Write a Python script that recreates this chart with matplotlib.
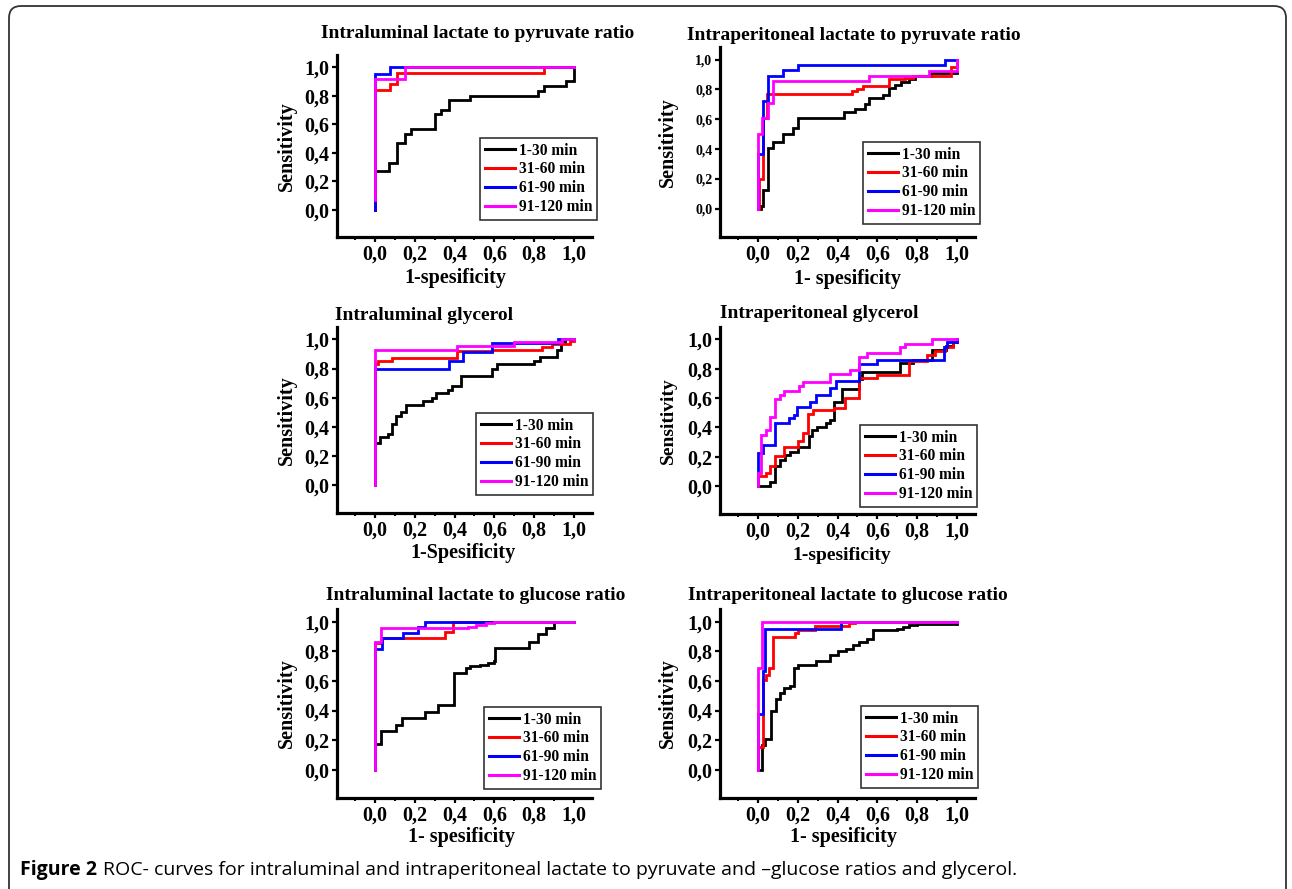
import numpy as np
import matplotlib
matplotlib.use("Agg")
import matplotlib.pyplot as plt
from matplotlib.patches import FancyBboxPatch
from matplotlib.ticker import MultipleLocator

# ── data (1-specificity, sensitivity) ────────────────────────────────────────
periods = ["1-30 min", "31-60 min", "61-90 min", "91-120 min"]
tick_vals = [0.0, 0.2, 0.4, 0.6, 0.8, 1.0]
tick_labels = ["0,0", "0,2", "0,4", "0,6", "0,8", "1,0"]

# intraluminal lactate/pyruvate
lp_lum_x1 = [0, 0, 0.07, 0.11, 0.15, 0.18, 0.30, 0.33, 0.37, 0.48, 0.82, 0.85, 0.96, 1.0]
lp_lum_y1 = [0, 0.27, 0.33, 0.47, 0.53, 0.57, 0.67, 0.70, 0.77, 0.80, 0.83, 0.87, 0.90, 1.0]
lp_lum_x2 = [0, 0, 0.075, 0.11, 0.85, 1.0]
lp_lum_y2 = [0, 0.84, 0.88, 0.96, 1.0, 1.0]
lp_lum_x3 = [0, 0, 0.075, 1.0]
lp_lum_y3 = [0, 0.955, 1.0, 1.0]
lp_lum_x4 = [0, 0, 0.15, 1.0]
lp_lum_y4 = [0.07, 0.92, 1.0, 1.0]

# intraperitoneal lactate/pyruvate
lp_per_x1 = [0, 0.017, 0.028, 0.05, 0.075, 0.125, 0.175, 0.20, 0.433, 0.49, 0.537, 0.558,
             0.63, 0.66, 0.69, 0.72, 0.76, 0.79, 0.87, 1.0]
lp_per_y1 = [0, 0.02, 0.125, 0.41, 0.45, 0.50, 0.54, 0.61, 0.65, 0.67, 0.70, 0.74,
             0.76, 0.81, 0.83, 0.85, 0.87, 0.89, 0.91, 0.92]
lp_per_x2 = [0, 0.005, 0.028, 0.045, 0.475, 0.50, 0.53, 0.66, 0.74, 0.78, 0.97, 1.0]
lp_per_y2 = [0, 0.2, 0.61, 0.77, 0.79, 0.80, 0.82, 0.87, 0.88, 0.89, 0.95, 1.0]
lp_per_x3 = [0, 0, 0.028, 0.053, 0.128, 0.20, 0.94, 1.0]
lp_per_y3 = [0, 0.37, 0.72, 0.89, 0.93, 0.965, 1.0, 1.0]
lp_per_x4 = [0, 0, 0.02, 0.053, 0.078, 0.56, 0.86, 1.0]
lp_per_y4 = [0, 0.50, 0.61, 0.71, 0.86, 0.89, 0.925, 1.0]

# intraluminal glycerol
gly_lum_x1 = [0, 0, 0.024, 0.066, 0.084, 0.104, 0.133, 0.155, 0.242, 0.286, 0.306, 0.365,
              0.385, 0.432, 0.587, 0.613, 0.80, 0.827, 0.914, 0.936, 0.953, 1.0]
gly_lum_y1 = [0, 0.29, 0.33, 0.35, 0.42, 0.475, 0.50, 0.55, 0.58, 0.60, 0.63, 0.65,
              0.68, 0.75, 0.80, 0.83, 0.85, 0.88, 0.93, 0.98, 1.0, 1.0]
gly_lum_x2 = [0, 0, 0.017, 0.084, 0.41, 0.59, 0.84, 0.89, 0.98, 1.0]
gly_lum_y2 = [0, 0.83, 0.85, 0.87, 0.92, 0.93, 0.95, 0.97, 0.99, 0.99]
gly_lum_x3 = [0, 0, 0.37, 0.44, 0.59, 0.92, 1.0]
gly_lum_y3 = [0, 0.80, 0.85, 0.915, 0.977, 1.0, 1.0]
gly_lum_x4 = [0, 0, 0.41, 0.70, 0.94, 1.0]
gly_lum_y4 = [0, 0.93, 0.955, 0.98, 1.0, 1.0]

# intraperitoneal glycerol
gly_per_x1 = [0, 0.062, 0.087, 0.11, 0.134, 0.162, 0.20, 0.255, 0.27, 0.296, 0.343, 0.363,
              0.38, 0.42, 0.51, 0.523, 0.715, 0.78, 0.875, 0.946, 0.98, 1.0]
gly_per_y1 = [0, 0.03, 0.135, 0.18, 0.215, 0.235, 0.27, 0.34, 0.38, 0.405, 0.43, 0.45,
              0.575, 0.66, 0.73, 0.78, 0.84, 0.86, 0.93, 0.955, 0.98, 1.0]
gly_per_x2 = [0, 0, 0.042, 0.062, 0.087, 0.129, 0.204, 0.229, 0.251, 0.276, 0.38, 0.439,
              0.509, 0.598, 0.757, 0.849, 0.891, 0.941, 0.98, 1.0]
gly_per_y2 = [0, 0.068, 0.09, 0.135, 0.203, 0.27, 0.31, 0.36, 0.49, 0.52, 0.535, 0.598,
              0.734, 0.756, 0.851, 0.896, 0.919, 0.948, 0.98, 1.0]
gly_per_x3 = [0, 0, 0.025, 0.087, 0.154, 0.179, 0.196, 0.26, 0.291, 0.363, 0.392, 0.509,
              0.598, 0.933, 0.95, 1.0]
gly_per_y3 = [0, 0.226, 0.282, 0.429, 0.463, 0.485, 0.542, 0.576, 0.621, 0.666, 0.716, 0.835,
              0.862, 0.948, 0.982, 1.0]
gly_per_x4 = [0, 0, 0.017, 0.042, 0.062, 0.084, 0.109, 0.129, 0.209, 0.229, 0.36, 0.464,
              0.509, 0.548, 0.715, 0.74, 0.874, 1.0]
gly_per_y4 = [0, 0.09, 0.35, 0.384, 0.474, 0.591, 0.621, 0.65, 0.682, 0.711, 0.763, 0.795,
              0.88, 0.91, 0.948, 0.971, 1.0, 1.0]

# intraluminal lactate/glucose
lg_lum_x1 = [0, 0, 0.032, 0.104, 0.138, 0.252, 0.318, 0.395, 0.46, 0.48, 0.53, 0.57, 0.60,
             0.605, 0.776, 0.818, 0.857, 0.897, 1.0]
lg_lum_y1 = [0, 0.176, 0.26, 0.30, 0.35, 0.39, 0.436, 0.65, 0.69, 0.70, 0.71, 0.72, 0.735,
             0.824, 0.865, 0.914, 0.96, 1.0, 1.0]
lg_lum_x2 = [0, 0, 0.034, 0.353, 0.393, 1.0]
lg_lum_y2 = [0, 0.858, 0.887, 0.932, 1.0, 1.0]
lg_lum_x3 = [0, 0, 0.034, 0.141, 0.217, 0.25, 1.0]
lg_lum_y3 = [0, 0.813, 0.887, 0.925, 0.966, 1.0, 1.0]
lg_lum_x4 = [0, 0, 0.032, 0.47, 0.51, 0.56, 0.60, 1.0]
lg_lum_y4 = [0, 0.865, 0.955, 0.965, 0.98, 0.99, 1.0, 1.0]

# intraperitoneal lactate/glucose
lg_per_x1 = [0, 0.02, 0.037, 0.067, 0.092, 0.112, 0.132, 0.16, 0.18, 0.20, 0.29, 0.36, 0.40,
             0.44, 0.48, 0.51, 0.55, 0.58, 0.70, 0.73, 0.76, 0.80, 1.0]
lg_per_y1 = [0, 0.165, 0.21, 0.395, 0.48, 0.52, 0.55, 0.565, 0.69, 0.71, 0.735, 0.775, 0.80,
             0.815, 0.84, 0.86, 0.88, 0.94, 0.95, 0.965, 0.975, 0.985, 0.985]
lg_per_x2 = [0, 0, 0.025, 0.042, 0.054, 0.075, 0.184, 0.204, 0.288, 0.459, 0.486, 1.0]
lg_per_y2 = [0, 0.153, 0.609, 0.639, 0.69, 0.894, 0.921, 0.944, 0.973, 0.993, 1.0, 1.0]
lg_per_x3 = [0, 0, 0.025, 0.037, 0.419, 1.0]
lg_per_y3 = [0, 0.379, 0.668, 0.95, 1.0, 1.0]
lg_per_x4 = [0, 0, 0.02, 1.0]
lg_per_y4 = [0, 0.684, 1.0, 1.0]

COLORS = ["#000000", "#FF0000", "#0000FF", "#FF00FF"]
SERIF = "Liberation Serif"
W, H = 1292, 889

fig = plt.figure(figsize=(W / 100, H / 100), dpi=100)


def px_rect(l, t, r, b):
    return [l / W, 1 - b / H, (r - l) / W, (b - t) / H]


def draw_panel(rect, curves, title, title_xy, title_ha, xlabel, xlabel_xy, ylabel_x,
               legend_xy, ytick_size=14.5, label_size=14.5):
    ax = fig.add_axes(px_rect(*rect))
    for (x, y), c, lab in zip(curves, COLORS, periods):
        ax.plot(x, y, drawstyle="steps-post", color=c, lw=2.0, label=lab,
                solid_joinstyle="miter")
    ax.set_xlim(-0.19, 1.09)
    ax.set_ylim(-0.19, 1.085)
    for s in ["top", "right"]:
        ax.spines[s].set_visible(False)
    for s in ["left", "bottom"]:
        ax.spines[s].set_linewidth(2.3)
    ax.set_xticks(tick_vals)
    ax.set_xticklabels(tick_labels)
    ax.set_yticks(tick_vals)
    ax.set_yticklabels(tick_labels)
    ax.xaxis.set_minor_locator(MultipleLocator(0.1))
    ax.tick_params(which="major", direction="out", length=3.5, width=1.6)
    ax.tick_params(which="minor", direction="out", length=2.5, width=1.4)
    ax.tick_params(axis="x", labelsize=14.5, pad=2)
    ax.tick_params(axis="y", labelsize=ytick_size, pad=2)
    for t in ax.get_xticklabels() + ax.get_yticklabels():
        t.set_fontfamily(SERIF)
        t.set_fontweight("bold")

    leg = ax.legend(loc="upper left",
                    bbox_to_anchor=(legend_xy[0] / W, 1 - legend_xy[1] / H),
                    bbox_transform=fig.transFigure, borderaxespad=0, frameon=True,
                    fancybox=False, edgecolor="black", handlelength=1.95,
                    handletextpad=0.25, labelspacing=0.18, borderpad=0.3,
                    prop={"family": SERIF, "weight": "bold", "size": 11.2})
    leg.get_frame().set_linewidth(1.2)
    for ln in leg.get_lines():
        ln.set_linewidth(2.2)

    fig.text(title_xy[0] / W, 1 - title_xy[1] / H, title, ha=title_ha, va="center",
             family=SERIF, weight="bold", size=14)
    fig.text(xlabel_xy[0] / W, 1 - xlabel_xy[1] / H, xlabel, ha="center", va="center",
             family=SERIF, weight="bold", size=label_size)
    yc = (rect[1] + rect[3]) / 2
    fig.text(ylabel_x / W, 1 - yc / H, "Sensitivity", rotation=90, ha="center",
             va="center", family=SERIF, weight="bold", size=label_size)
    return ax


draw_panel((337, 55, 592, 237),
           [(lp_lum_x1, lp_lum_y1), (lp_lum_x2, lp_lum_y2), (lp_lum_x3, lp_lum_y3), (lp_lum_x4, lp_lum_y4)],
           "Intraluminal lactate to pyruvate ratio", (478, 33), "center",
           "1-spesificity", (455, 278), 287, (480, 138))
draw_panel((720, 47, 975, 237),
           [(lp_per_x1, lp_per_y1), (lp_per_x2, lp_per_y2), (lp_per_x3, lp_per_y3), (lp_per_x4, lp_per_y4)],
           "Intraperitoneal lactate to pyruvate ratio", (854, 35), "center",
           "1- spesificity", (848, 279), 668, (863, 142), ytick_size=10)
draw_panel((337, 327, 592, 513),
           [(gly_lum_x1, gly_lum_y1), (gly_lum_x2, gly_lum_y2), (gly_lum_x3, gly_lum_y3), (gly_lum_x4, gly_lum_y4)],
           "Intraluminal glycerol", (335, 315), "left",
           "1-Spesificity", (463, 553), 287, (476, 413))
draw_panel((720, 327, 975, 514),
           [(gly_per_x1, gly_per_y1), (gly_per_x2, gly_per_y2), (gly_per_x3, gly_per_y3), (gly_per_x4, gly_per_y4)],
           "Intraperitoneal glycerol", (720, 313), "left",
           "1-spesificity", (842, 555), 668, (860, 425), label_size=14)
draw_panel((337, 609, 592, 798),
           [(lg_lum_x1, lg_lum_y1), (lg_lum_x2, lg_lum_y2), (lg_lum_x3, lg_lum_y3), (lg_lum_x4, lg_lum_y4)],
           "Intraluminal lactate to glucose ratio", (476, 595), "center",
           "1- spesificity", (462, 837), 287, (484, 707))
draw_panel((720, 609, 975, 798),
           [(lg_per_x1, lg_per_y1), (lg_per_x2, lg_per_y2), (lg_per_x3, lg_per_y3), (lg_per_x4, lg_per_y4)],
           "Intraperitoneal lactate to glucose ratio", (848, 595), "center",
           "1- spesificity", (843, 837), 668, (861, 706))

# outer rounded frame (bottom edge runs off the canvas)
frame = FancyBboxPatch((9, -40), 1277, 923, boxstyle="round,pad=0,rounding_size=12",
                       transform=None, facecolor="none", edgecolor="#333333", lw=1.3)
fig.patches.append(frame)

# caption: bold "Figure 2" followed by regular text
cap_y = 1 - 870 / H
t1 = fig.text(20 / W, cap_y, "Figure 2", ha="left", va="center", family="Open Sans",
              weight="bold", size=14)
fig.canvas.draw()
bb = t1.get_window_extent()
fig.text((bb.x1 + 6) / W, cap_y,
         "ROC- curves for intraluminal and intraperitoneal lactate to pyruvate and \u2013glucose ratios and glycerol.",
         ha="left", va="center", family="Open Sans", size=14)

fig.savefig("out.png", dpi=100)
